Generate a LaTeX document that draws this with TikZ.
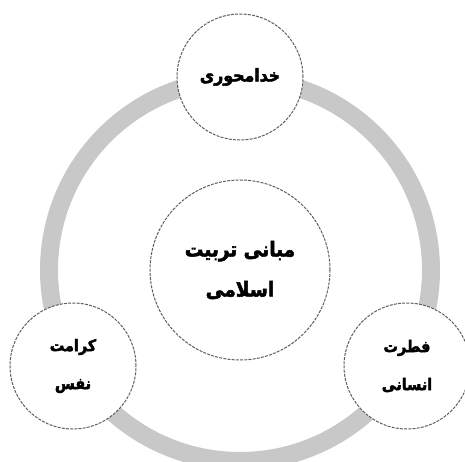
\documentclass[tikz,border=0pt]{standalone}
\usepackage{fontspec}
\TeXXeTstate=1
\newfontfamily\arabicfont[Script=Arabic, FakeStretch=0.9, BoldFeatures={FakeBold=2.5}]{DejaVu Sans}
\newcommand\faline[1]{\beginR #1\endR}
\definecolor{ringgray}{RGB}{200,200,200}
\definecolor{dashgray}{RGB}{95,95,95}
\begin{document}
\begin{tikzpicture}[x=1pt,y=1pt,
  bubble/.style={circle, draw=dashgray, line width=1pt, dash pattern=on 3pt off 1.2pt, fill=white, inner sep=0pt, align=center},
  small/.style={bubble, minimum size=126pt, font=\arabicfont\bfseries\fontsize{16}{38}\selectfont},
  big/.style={bubble, minimum size=180pt, font=\arabicfont\bfseries\fontsize{20.5}{40}\selectfont}]
\useasboundingbox (0,0) rectangle (465,461);
\coordinate (o) at (240,191);
\draw[ringgray, line width=18pt] (o) circle[radius=191];
\node[big] (center) at (o) {\faline{مبانی تربیت}\\\faline{اسلامی}};
\node[small, font=\arabicfont\bfseries\fontsize{17.5}{38}\selectfont] (top) at (240,384) {\faline{خدامحوری}};
\node[small] (left) at (73,95) {\faline{کرامت}\\\faline{نفس}};
\node[small] (right) at (407,95) {\faline{فطرت}\\\faline{انسانی}};
\end{tikzpicture}
\end{document}
